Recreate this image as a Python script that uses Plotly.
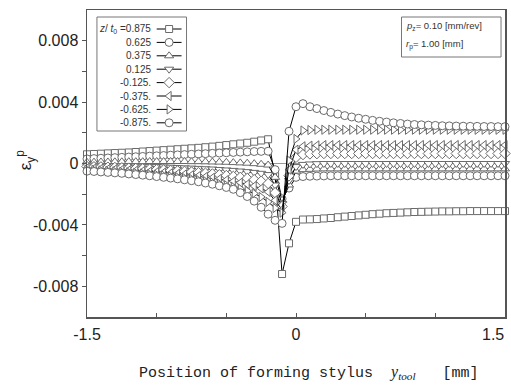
import plotly.graph_objects as go

# ---------------- data ----------------
x_pos = [-1.5, -1.45, -1.4, -1.35, -1.3, -1.25, -1.2, -1.15, -1.1, -1.05,
         -1.0, -0.95, -0.9, -0.85, -0.8, -0.75, -0.7, -0.65, -0.6, -0.55,
         -0.5, -0.45, -0.4, -0.35, -0.3, -0.25, -0.2, -0.15, -0.1, -0.05,
         0.0, 0.05, 0.1, 0.15, 0.2, 0.25, 0.3, 0.35, 0.4, 0.45,
         0.5, 0.55, 0.6, 0.65, 0.7, 0.75, 0.8, 0.85, 0.9, 0.95,
         1.0, 1.05, 1.1, 1.15, 1.2, 1.25, 1.3, 1.35, 1.4, 1.45, 1.5]

z_p0875 = [0.00060, 0.00062, 0.00064, 0.00066, 0.00068, 0.00070, 0.00072, 0.00075, 0.00078, 0.00081,
           0.00084, 0.00087, 0.00090, 0.00093, 0.00096, 0.00099, 0.00102, 0.00106, 0.00110, 0.00115,
           0.00120, 0.00125, 0.00130, 0.00135, 0.00142, 0.00150, 0.00158,
           -0.0008, -0.0072, -0.0052, -0.0038,
           -0.00365, -0.00364, -0.00362, -0.00358, -0.00355, -0.00350, -0.00346, -0.00342, -0.00338, -0.00334,
           -0.00330, -0.00327, -0.00324, -0.00322, -0.00320, -0.00318, -0.00316, -0.00315, -0.00314, -0.00313,
           -0.00312, -0.00312, -0.00311, -0.00311, -0.00310, -0.00310, -0.00310, -0.00310, -0.00310, -0.00310]

z_p0625 = [0.00030, 0.00032, 0.00034, 0.00036, 0.00038, 0.00040, 0.00042, 0.00044, 0.00046, 0.00048,
           0.00050, 0.00052, 0.00054, 0.00056, 0.00058, 0.00060, 0.00062, 0.00064, 0.00066, 0.00068,
           0.00070, 0.00072, 0.00074, 0.00076, 0.00078, 0.00079, 0.00080,
           -0.0004, -0.0023, -0.0016, -0.0009,
           -0.00085, -0.00083, -0.00082, -0.00081, -0.00080, -0.00080, -0.00080, -0.00080, -0.00080, -0.00080,
           -0.00080, -0.00080, -0.00080, -0.00080, -0.00080, -0.00080, -0.00080, -0.00080, -0.00080, -0.00080,
           -0.00080, -0.00080, -0.00080, -0.00080, -0.00080, -0.00080, -0.00080, -0.00080, -0.00080, -0.00080]

z_p0375 = [0.00008, 0.00009, 0.00010, 0.00010, 0.00011, 0.00011, 0.00012, 0.00012, 0.00012, 0.00013,
           0.00013, 0.00013, 0.00013, 0.00013, 0.00013, 0.00012, 0.00012, 0.00011, 0.00010, 0.00009,
           0.00008, 0.00006, 0.00004, 0.00002, -0.00001, -0.00005, -0.00010,
           -0.0009, -0.0024, -0.0014, -0.0005,
           -0.00040, -0.00038, -0.00036, -0.00035, -0.00035, -0.00035, -0.00035, -0.00035, -0.00035, -0.00035,
           -0.00035, -0.00035, -0.00035, -0.00035, -0.00035, -0.00035, -0.00035, -0.00035, -0.00035, -0.00035,
           -0.00035, -0.00035, -0.00035, -0.00035, -0.00035, -0.00035, -0.00035, -0.00035, -0.00035, -0.00035]

z_p0125 = [-0.00010, -0.00011, -0.00012, -0.00013, -0.00014, -0.00015, -0.00016, -0.00017, -0.00018, -0.00019,
           -0.00020, -0.00022, -0.00024, -0.00026, -0.00028, -0.00030, -0.00032, -0.00034, -0.00036, -0.00039,
           -0.00042, -0.00045, -0.00049, -0.00053, -0.00058, -0.00064, -0.00072,
           -0.0014, -0.0026, -0.0011, -0.0002,
           -0.00006, -0.00003, -0.00001, 0.0, 0.0, 0.0, 0.0, 0.0, 0.0, 0.0,
           0.0, 0.0, 0.0, 0.0, 0.0, 0.0, 0.0, 0.0, 0.0, 0.0,
           0.0, 0.0, 0.0, 0.0, 0.0, 0.0, 0.0, 0.0, 0.0, 0.0]

z_m0125 = [-0.00020, -0.00021, -0.00022, -0.00024, -0.00026, -0.00028, -0.00030, -0.00032, -0.00034, -0.00036,
           -0.00039, -0.00042, -0.00045, -0.00048, -0.00051, -0.00055, -0.00059, -0.00063, -0.00068, -0.00073,
           -0.00078, -0.00084, -0.00090, -0.00097, -0.00105, -0.00115, -0.00130,
           -0.0019, -0.0028, -0.0008, 0.0004,
           0.00058, 0.00062, 0.00064, 0.00065, 0.00065, 0.00065, 0.00065, 0.00065, 0.00065, 0.00065,
           0.00065, 0.00065, 0.00065, 0.00065, 0.00065, 0.00065, 0.00065, 0.00065, 0.00065, 0.00065,
           0.00065, 0.00065, 0.00065, 0.00065, 0.00065, 0.00065, 0.00065, 0.00065, 0.00065, 0.00065]

z_m0375 = [-0.00030, -0.00032, -0.00034, -0.00036, -0.00038, -0.00040, -0.00043, -0.00046, -0.00049, -0.00052,
           -0.00055, -0.00059, -0.00063, -0.00067, -0.00071, -0.00076, -0.00081, -0.00087, -0.00093, -0.00100,
           -0.00108, -0.00116, -0.00125, -0.00135, -0.00147, -0.00162, -0.00185,
           -0.0024, -0.0030, -0.0004, 0.0009,
           0.00112, 0.00116, 0.00118, 0.00120, 0.00120, 0.00120, 0.00120, 0.00120, 0.00120, 0.00120,
           0.00120, 0.00120, 0.00120, 0.00120, 0.00120, 0.00120, 0.00120, 0.00120, 0.00120, 0.00120,
           0.00120, 0.00120, 0.00120, 0.00120, 0.00120, 0.00120, 0.00120, 0.00120, 0.00120, 0.00120]

z_m0625 = [-0.00040, -0.00042, -0.00045, -0.00048, -0.00051, -0.00054, -0.00057, -0.00061, -0.00065, -0.00069,
           -0.00073, -0.00078, -0.00083, -0.00088, -0.00094, -0.00100, -0.00107, -0.00114, -0.00122, -0.00131,
           -0.00141, -0.00152, -0.00164, -0.00178, -0.00195, -0.00218, -0.00250,
           -0.0029, -0.0032, 0.0002, 0.0016,
           0.00215, 0.00218, 0.00220, 0.00220, 0.00220, 0.00220, 0.00220, 0.00220, 0.00220, 0.00220,
           0.00220, 0.00220, 0.00220, 0.00220, 0.00220, 0.00220, 0.00220, 0.00220, 0.00220, 0.00220,
           0.00220, 0.00220, 0.00220, 0.00220, 0.00220, 0.00220, 0.00220, 0.00220, 0.00220, 0.00220]

z_m0875 = [-0.00050, -0.00052, -0.00055, -0.00058, -0.00061, -0.00064, -0.00068, -0.00072, -0.00076, -0.00080,
           -0.00085, -0.00090, -0.00095, -0.00100, -0.00106, -0.00112, -0.00119, -0.00127, -0.00135, -0.00145,
           -0.00156, -0.00168, -0.00190, -0.00215, -0.00245, -0.00285, -0.00330,
           -0.0037, -0.0039, 0.0021, 0.0037,
           0.00390, 0.00370, 0.00358, 0.00345, 0.00333, 0.00322, 0.00312, 0.00303, 0.00295, 0.00288,
           0.00281, 0.00275, 0.00270, 0.00265, 0.00261, 0.00257, 0.00254, 0.00252, 0.00250, 0.00248,
           0.00246, 0.00245, 0.00244, 0.00243, 0.00242, 0.00242, 0.00241, 0.00241, 0.00240, 0.00240]

series = [z_p0875, z_p0625, z_p0375, z_p0125, z_m0125, z_m0375, z_m0625, z_m0875]
legend_labels = ["<i>z</i>/ <i>t</i><sub>0</sub> =0.875", "0.625", "0.375", "0.125",
                 "-0.125.", "-0.375.", "-0.625.", "-0.875."]
symbols = ["square", "circle", "triangle-up", "triangle-down",
           "diamond", "triangle-left", "triangle-right", "circle"]
sizes = [7, 8, 8, 8, 8, 8, 8, 8]

x_ticks = [-1.5, 0, 1.5]
x_ticktext = ["-1.5", "0", ""]          # "1.5" is placed flush with the right edge below
x_last_label = "1.5"
x_minor = [-1.0, -0.5, 0.5, 1.0]
y_ticks = [-0.008, -0.004, 0, 0.004, 0.008]
y_ticktext = ["-0.008", "-0.004", "0", "0.004", "0.008"]
y_minor = [-0.006, -0.002, 0.002, 0.006]

for s in series:
    assert len(s) == len(x_pos), len(s)

# ---------------- figure ----------------
W, H = 511, 387
L, R, T, B = 87, 4, 10, 70
PX0, PX1, PY0, PY1 = L, W - R, T, H - B  # plot area in pixels

MK_LINE = "#6a6a6a"
fig = go.Figure()
for vals, sym, sz in zip(series, symbols, sizes):
    fig.add_trace(go.Scatter(
        x=x_pos, y=vals, mode="lines+markers", cliponaxis=False,
        line=dict(color="black", width=1),
        marker=dict(symbol=sym, size=sz, color="white",
                    line=dict(color=MK_LINE, width=1)),
        showlegend=False, hoverinfo="skip"))

# ---- custom legend (text left, sample right) on a pixel overlay axis ----
row_y = [29, 42.4, 55.8, 69.2, 82.6, 96, 109.4, 122.8]
lx0, lx1, lxm = 157, 182, 169.5
for ry, sym, sz in zip(row_y, symbols, sizes):
    fig.add_trace(go.Scatter(
        x=[lx0, lx1], y=[ry, ry], mode="lines", xaxis="x2", yaxis="y2",
        line=dict(color="black", width=1), showlegend=False, hoverinfo="skip"))
    fig.add_trace(go.Scatter(
        x=[lxm], y=[ry], mode="markers", xaxis="x2", yaxis="y2",
        marker=dict(symbol=sym, size=sz, color="white", line=dict(color=MK_LINE, width=1)),
        showlegend=False, hoverinfo="skip"))

annotations = []
for ry, lab in zip(row_y, legend_labels):
    annotations.append(dict(x=153, y=ry, xref="x2", yref="y2", text=lab, showarrow=False,
                            xanchor="right", yanchor="middle",
                            font=dict(family="Liberation Sans, Arial", size=10, color="#333")))

# parameter box
annotations.append(dict(x=406, y=26, xref="x2", yref="y2",
                        text="<i>p</i><sub>z</sub>= 0.10 [mm/rev]", showarrow=False,
                        xanchor="left", yanchor="middle",
                        font=dict(family="Liberation Sans, Arial", size=9.5, color="#333")))
annotations.append(dict(x=406, y=44, xref="x2", yref="y2",
                        text="<i>r</i><sub>p</sub>= 1.00 [mm]", showarrow=False,
                        xanchor="left", yanchor="middle",
                        font=dict(family="Liberation Sans, Arial", size=9.5, color="#333")))

def px_to_paper_x(px):
    return (px - PX0) / (PX1 - PX0)

def px_to_paper_y(py):
    return (PY1 - py) / (PY1 - PY0)

tickfont = dict(family="Liberation Sans, Arial", size=16, color="#222")

# last x tick label, kept inside the figure like the reference
annotations.append(dict(x=1.5, y=px_to_paper_y(334), xref="x", yref="paper",
                        text=x_last_label, showarrow=False, xanchor="right", yanchor="middle",
                        xshift=1, font=tickfont))

# y-axis title
annotations.append(dict(x=px_to_paper_x(25), y=px_to_paper_y(160), xref="paper", yref="paper",
                        text="ε<sub>y</sub><sup>p</sup>", showarrow=False, textangle=-90,
                        xanchor="center", yanchor="middle",
                        font=dict(family="Liberation Sans, Arial", size=17, color="#222")))
# x-axis title
annotations.append(dict(
    x=px_to_paper_x(137), y=px_to_paper_y(372), xref="paper", yref="paper",
    text=("Position of forming stylus\u00a0\u00a0"
          "<span style=\"font-family:Liberation Serif;font-style:italic;font-size:16px\">y<sub>tool</sub></span>"
          "\u00a0\u00a0\u00a0[mm]"),
    showarrow=False, xanchor="left", yanchor="middle",
    font=dict(family="Liberation Mono, monospace", size=15, color="#222")))

shapes = [
    dict(type="rect", xref="x2", yref="y2", x0=97, x1=187, y0=17, y1=131,
         line=dict(color="#777", width=1), fillcolor="rgba(0,0,0,0)"),
    dict(type="rect", xref="x2", yref="y2", x0=403, x1=503, y0=17, y1=57,
         line=dict(color="#777", width=1), fillcolor="rgba(0,0,0,0)"),
]

fig.update_layout(
    width=W, height=H,
    margin=dict(l=L, r=R, t=T, b=B, pad=0),
    paper_bgcolor="white", plot_bgcolor="white",
    showlegend=False,
    xaxis=dict(range=[-1.5, 1.5], tickvals=x_ticks, ticktext=x_ticktext,
               ticks="inside", ticklen=4, tickcolor="#555", tickwidth=1,
               minor=dict(tickvals=x_minor, ticks="inside", ticklen=4, tickcolor="#555"),
               showgrid=False, zeroline=False, showline=True, linecolor="#555", linewidth=1.5,
               mirror=True, tickfont=tickfont, ticklabelstandoff=2, fixedrange=True),
    yaxis=dict(range=[-0.01, 0.01], tickvals=y_ticks, ticktext=y_ticktext,
               ticks="outside", ticklen=4, tickcolor="#555", tickwidth=1,
               minor=dict(tickvals=y_minor, ticks="outside", ticklen=4, tickcolor="#555"),
               showgrid=False, zeroline=True, zerolinecolor="#999", zerolinewidth=1,
               showline=True, linecolor="#555", linewidth=1.5,
               mirror=True, tickfont=tickfont, fixedrange=True),
    xaxis2=dict(overlaying="x", range=[PX0, PX1], visible=False, fixedrange=True),
    yaxis2=dict(overlaying="y", range=[PY1, PY0], visible=False, fixedrange=True),
    annotations=annotations,
    shapes=shapes,
)

fig.write_html("out.html",
               config={"displayModeBar": False, "staticPlot": True},
               post_script="document.body.style.margin='0px';document.body.style.overflow='hidden';")
